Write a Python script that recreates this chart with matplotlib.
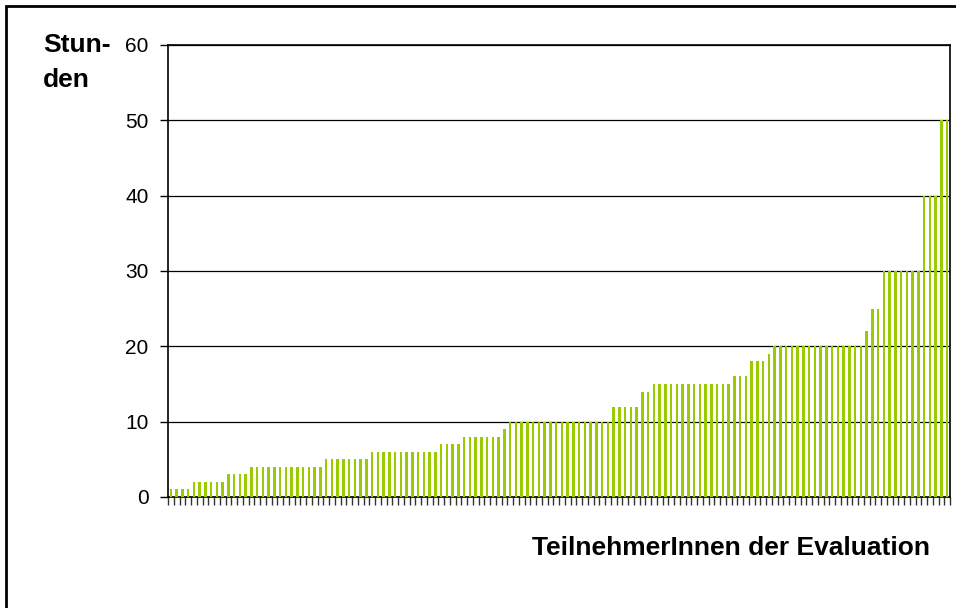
import numpy as np
import matplotlib
matplotlib.use('Agg')
import matplotlib.pyplot as plt
from matplotlib.patches import Rectangle

plt.rcParams['font.family'] = ['Liberation Sans', 'DejaVu Sans']

# Stunden je TeilnehmerIn, aufsteigend sortiert (Wert, Anzahl)
stufen = [1, 2, 3, 4, 5, 6, 7, 8, 9, 10, 12, 14, 15, 16, 18, 19, 20, 22, 25, 30, 40, 50]
anzahl = [4, 6, 4, 13, 8, 12, 4, 7, 1, 18, 5, 2, 14, 3, 3, 1, 16, 1, 2, 7, 3, 2]
stunden = np.repeat(stufen, anzahl)
y_ticks = [0, 10, 20, 30, 40, 50, 60]

gruen = '#99cc00'

fig = plt.figure(figsize=(9.56, 6.08), dpi=100)
ax = fig.add_axes([168 / 956, 1 - 497 / 608, (950 - 168) / 956, (497 - 45) / 608])

x = np.arange(len(stunden))
ax.bar(x, stunden, width=0.42, color=gruen, linewidth=0, zorder=3)
ax.set_xlim(-0.5, len(stunden) - 0.5)
ax.set_ylim(0, 60)

# Rasterlinien
ax.set_yticks(y_ticks)
ax.set_yticklabels([str(t) for t in y_ticks], fontsize=15)
ax.yaxis.grid(True, color='black', linewidth=0.9, zorder=1)
ax.tick_params(axis='y', length=6, width=1, color='black', pad=8)

# Kategorie-Striche an den Grenzen
ax.set_xticks(np.arange(len(stunden) + 1) - 0.5)
ax.set_xticklabels([])
ax.tick_params(axis='x', length=6, width=1, color='#333333', direction='out')

for s in ax.spines.values():
    s.set_color('black')
    s.set_linewidth(1.2)

fig.text(43 / 956, 1 - 45 / 608, 'Stun-', fontsize=19, fontweight='bold', va='center', ha='left')
fig.text(43 / 956, 1 - 80 / 608, 'den', fontsize=19, fontweight='bold', va='center', ha='left')
fig.text(930 / 956, 1 - 548 / 608, 'TeilnehmerInnen der Evaluation', fontsize=19,
         fontweight='bold', va='center', ha='right')

# Rahmen um das ganze Diagramm
fig.patches.append(Rectangle((6 / 956, -0.01), 960 / 956, 1 - 6 / 608 + 0.01,
                             transform=fig.transFigure, fill=False,
                             edgecolor='black', linewidth=2))

fig.savefig('out.png', dpi=100)
